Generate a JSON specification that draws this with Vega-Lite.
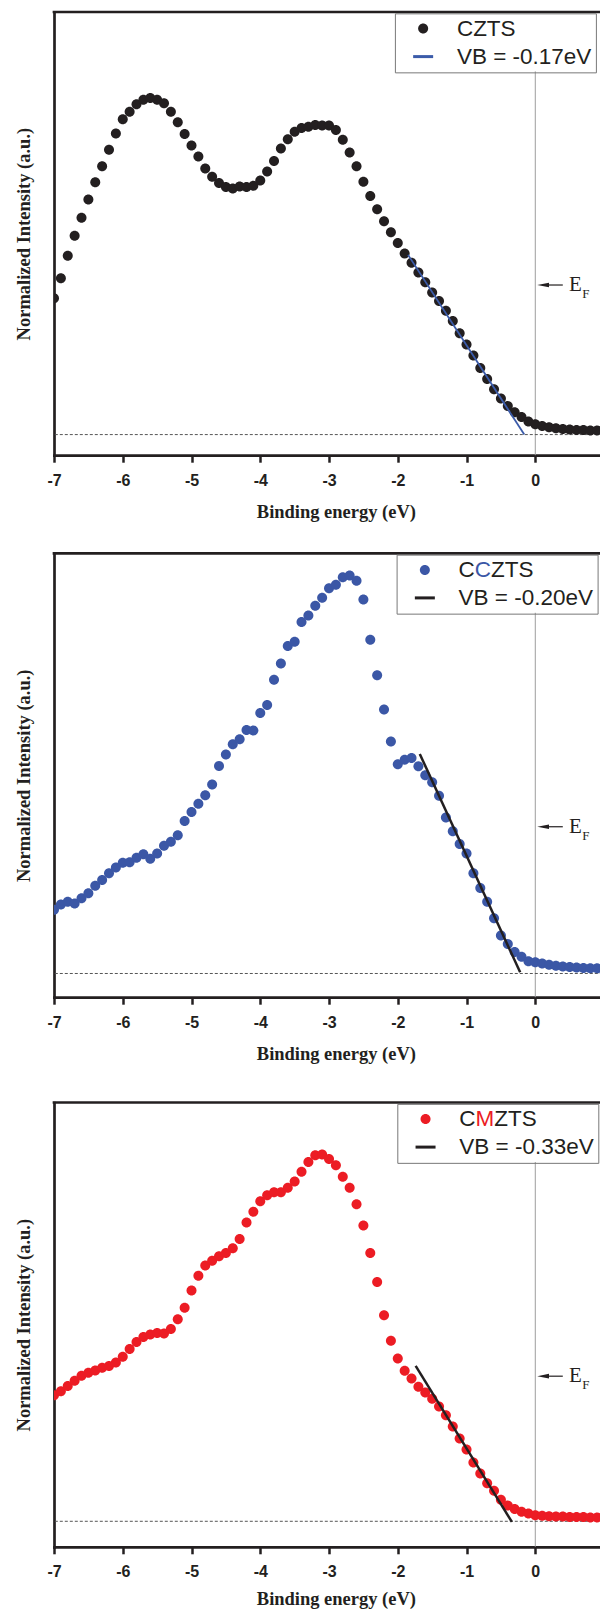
{
  "$schema": "https://vega.github.io/schema/vega-lite/v6.json",
  "background": "white",
  "padding": {"left": 15, "top": 10, "right": 0, "bottom": 0},
  "config": {
    "font": "Liberation Sans",
    "view": {"stroke": null},
    "axis": {"grid": false, "domainColor": "#231f20", "domainWidth": 2.7, "domainCap": "square", "tickColor": "#231f20", "tickWidth": 2.5, "labelFont": "Liberation Sans", "labelFontWeight": "bold", "labelFontSize": 16, "labelColor": "#231f20", "titleFont": "Liberation Serif", "titleFontWeight": "bold", "titleFontSize": 18.5, "titleColor": "#231f20", "zindex": 1},
    "legend": {"orient": "none", "padding": 4, "rowPadding": 5, "labelFont": "Liberation Sans", "labelFontSize": 22.5, "labelColor": "#231f20", "symbolSize": 400, "labelOffset": 22.5, "symbolOffset": 13, "strokeColor": "#777777", "labelLimit": 400, "symbolStrokeWidth": 0}
  },
  "datasets": {
    "czts": [
      {"E": -7.0, "I": 0.354}, {"E": -6.9, "I": 0.399}, {"E": -6.8, "I": 0.450}, {"E": -6.7, "I": 0.495}, {"E": -6.6, "I": 0.536},
      {"E": -6.5, "I": 0.577}, {"E": -6.4, "I": 0.616}, {"E": -6.3, "I": 0.652}, {"E": -6.2, "I": 0.689}, {"E": -6.1, "I": 0.726},
      {"E": -6.0, "I": 0.758}, {"E": -5.9, "I": 0.775}, {"E": -5.8, "I": 0.792}, {"E": -5.7, "I": 0.802}, {"E": -5.6, "I": 0.806},
      {"E": -5.5, "I": 0.802}, {"E": -5.4, "I": 0.794}, {"E": -5.3, "I": 0.775}, {"E": -5.2, "I": 0.751}, {"E": -5.1, "I": 0.725},
      {"E": -5.0, "I": 0.699}, {"E": -4.9, "I": 0.674}, {"E": -4.8, "I": 0.647}, {"E": -4.7, "I": 0.628}, {"E": -4.6, "I": 0.614},
      {"E": -4.5, "I": 0.605}, {"E": -4.4, "I": 0.602}, {"E": -4.3, "I": 0.606}, {"E": -4.2, "I": 0.605}, {"E": -4.1, "I": 0.608},
      {"E": -4.0, "I": 0.620}, {"E": -3.9, "I": 0.640}, {"E": -3.8, "I": 0.664}, {"E": -3.7, "I": 0.692}, {"E": -3.6, "I": 0.713},
      {"E": -3.5, "I": 0.730}, {"E": -3.4, "I": 0.738}, {"E": -3.3, "I": 0.741}, {"E": -3.2, "I": 0.745}, {"E": -3.1, "I": 0.744},
      {"E": -3.0, "I": 0.744}, {"E": -2.9, "I": 0.734}, {"E": -2.8, "I": 0.712}, {"E": -2.7, "I": 0.683}, {"E": -2.6, "I": 0.652},
      {"E": -2.5, "I": 0.617}, {"E": -2.4, "I": 0.585}, {"E": -2.3, "I": 0.555}, {"E": -2.2, "I": 0.528}, {"E": -2.1, "I": 0.503},
      {"E": -2.0, "I": 0.479}, {"E": -1.9, "I": 0.455}, {"E": -1.8, "I": 0.434}, {"E": -1.7, "I": 0.412}, {"E": -1.6, "I": 0.390},
      {"E": -1.5, "I": 0.367}, {"E": -1.4, "I": 0.348}, {"E": -1.3, "I": 0.326}, {"E": -1.2, "I": 0.303}, {"E": -1.1, "I": 0.275},
      {"E": -1.0, "I": 0.250}, {"E": -0.9, "I": 0.225}, {"E": -0.8, "I": 0.197}, {"E": -0.7, "I": 0.172}, {"E": -0.6, "I": 0.149},
      {"E": -0.5, "I": 0.128}, {"E": -0.4, "I": 0.111}, {"E": -0.3, "I": 0.097}, {"E": -0.2, "I": 0.086}, {"E": -0.1, "I": 0.076},
      {"E": 0.0, "I": 0.070}, {"E": 0.1, "I": 0.066}, {"E": 0.2, "I": 0.063}, {"E": 0.3, "I": 0.061}, {"E": 0.4, "I": 0.059},
      {"E": 0.5, "I": 0.058}, {"E": 0.6, "I": 0.057}, {"E": 0.7, "I": 0.057}, {"E": 0.8, "I": 0.056}, {"E": 0.9, "I": 0.056},
      {"E": 1.0, "I": 0.056}
    ],
    "cczts": [
      {"E": -7.0, "I": 0.197}, {"E": -6.9, "I": 0.209}, {"E": -6.8, "I": 0.215}, {"E": -6.7, "I": 0.211}, {"E": -6.6, "I": 0.223},
      {"E": -6.5, "I": 0.234}, {"E": -6.4, "I": 0.251}, {"E": -6.3, "I": 0.264}, {"E": -6.2, "I": 0.279}, {"E": -6.1, "I": 0.292},
      {"E": -6.0, "I": 0.303}, {"E": -5.9, "I": 0.304}, {"E": -5.8, "I": 0.314}, {"E": -5.7, "I": 0.322}, {"E": -5.6, "I": 0.312},
      {"E": -5.5, "I": 0.324}, {"E": -5.4, "I": 0.341}, {"E": -5.3, "I": 0.350}, {"E": -5.2, "I": 0.365}, {"E": -5.1, "I": 0.397},
      {"E": -5.0, "I": 0.417}, {"E": -4.9, "I": 0.436}, {"E": -4.8, "I": 0.455}, {"E": -4.7, "I": 0.479}, {"E": -4.6, "I": 0.521},
      {"E": -4.5, "I": 0.547}, {"E": -4.4, "I": 0.570}, {"E": -4.3, "I": 0.581}, {"E": -4.2, "I": 0.602}, {"E": -4.1, "I": 0.601},
      {"E": -4.0, "I": 0.640}, {"E": -3.9, "I": 0.658}, {"E": -3.8, "I": 0.715}, {"E": -3.7, "I": 0.752}, {"E": -3.6, "I": 0.791},
      {"E": -3.5, "I": 0.801}, {"E": -3.4, "I": 0.845}, {"E": -3.3, "I": 0.860}, {"E": -3.2, "I": 0.882}, {"E": -3.1, "I": 0.900},
      {"E": -3.0, "I": 0.921}, {"E": -2.9, "I": 0.929}, {"E": -2.8, "I": 0.946}, {"E": -2.7, "I": 0.950}, {"E": -2.6, "I": 0.938},
      {"E": -2.5, "I": 0.896}, {"E": -2.4, "I": 0.805}, {"E": -2.3, "I": 0.725}, {"E": -2.2, "I": 0.648}, {"E": -2.1, "I": 0.576},
      {"E": -2.0, "I": 0.525}, {"E": -1.9, "I": 0.535}, {"E": -1.8, "I": 0.539}, {"E": -1.7, "I": 0.520}, {"E": -1.6, "I": 0.500},
      {"E": -1.5, "I": 0.484}, {"E": -1.4, "I": 0.454}, {"E": -1.3, "I": 0.405}, {"E": -1.2, "I": 0.374}, {"E": -1.1, "I": 0.345},
      {"E": -1.0, "I": 0.324}, {"E": -0.9, "I": 0.279}, {"E": -0.8, "I": 0.246}, {"E": -0.7, "I": 0.215}, {"E": -0.6, "I": 0.178},
      {"E": -0.5, "I": 0.139}, {"E": -0.4, "I": 0.120}, {"E": -0.3, "I": 0.102}, {"E": -0.2, "I": 0.091}, {"E": -0.1, "I": 0.081},
      {"E": 0.0, "I": 0.079}, {"E": 0.1, "I": 0.076}, {"E": 0.2, "I": 0.073}, {"E": 0.3, "I": 0.071}, {"E": 0.4, "I": 0.069},
      {"E": 0.5, "I": 0.068}, {"E": 0.6, "I": 0.067}, {"E": 0.7, "I": 0.066}, {"E": 0.8, "I": 0.065}, {"E": 0.9, "I": 0.065},
      {"E": 1.0, "I": 0.065}
    ],
    "cmzts": [
      {"E": -7.0, "I": 0.341}, {"E": -6.9, "I": 0.350}, {"E": -6.8, "I": 0.362}, {"E": -6.7, "I": 0.374}, {"E": -6.6, "I": 0.385},
      {"E": -6.5, "I": 0.392}, {"E": -6.4, "I": 0.397}, {"E": -6.3, "I": 0.403}, {"E": -6.2, "I": 0.407}, {"E": -6.1, "I": 0.415},
      {"E": -6.0, "I": 0.428}, {"E": -5.9, "I": 0.445}, {"E": -5.8, "I": 0.461}, {"E": -5.7, "I": 0.472}, {"E": -5.6, "I": 0.478},
      {"E": -5.5, "I": 0.481}, {"E": -5.4, "I": 0.480}, {"E": -5.3, "I": 0.490}, {"E": -5.2, "I": 0.512}, {"E": -5.1, "I": 0.538},
      {"E": -5.0, "I": 0.577}, {"E": -4.9, "I": 0.610}, {"E": -4.8, "I": 0.633}, {"E": -4.7, "I": 0.644}, {"E": -4.6, "I": 0.654},
      {"E": -4.5, "I": 0.661}, {"E": -4.4, "I": 0.672}, {"E": -4.3, "I": 0.693}, {"E": -4.2, "I": 0.730}, {"E": -4.1, "I": 0.754},
      {"E": -4.0, "I": 0.778}, {"E": -3.9, "I": 0.791}, {"E": -3.8, "I": 0.798}, {"E": -3.7, "I": 0.798}, {"E": -3.6, "I": 0.808},
      {"E": -3.5, "I": 0.822}, {"E": -3.4, "I": 0.844}, {"E": -3.3, "I": 0.866}, {"E": -3.2, "I": 0.881}, {"E": -3.1, "I": 0.883},
      {"E": -3.0, "I": 0.873}, {"E": -2.9, "I": 0.859}, {"E": -2.8, "I": 0.833}, {"E": -2.7, "I": 0.808}, {"E": -2.6, "I": 0.771},
      {"E": -2.5, "I": 0.723}, {"E": -2.4, "I": 0.661}, {"E": -2.3, "I": 0.596}, {"E": -2.2, "I": 0.521}, {"E": -2.1, "I": 0.464},
      {"E": -2.0, "I": 0.424}, {"E": -1.9, "I": 0.396}, {"E": -1.8, "I": 0.379}, {"E": -1.7, "I": 0.360}, {"E": -1.6, "I": 0.347},
      {"E": -1.5, "I": 0.333}, {"E": -1.4, "I": 0.316}, {"E": -1.3, "I": 0.296}, {"E": -1.2, "I": 0.271}, {"E": -1.1, "I": 0.244},
      {"E": -1.0, "I": 0.219}, {"E": -0.9, "I": 0.190}, {"E": -0.8, "I": 0.165}, {"E": -0.7, "I": 0.143}, {"E": -0.6, "I": 0.126},
      {"E": -0.5, "I": 0.106}, {"E": -0.4, "I": 0.093}, {"E": -0.3, "I": 0.085}, {"E": -0.2, "I": 0.079}, {"E": -0.1, "I": 0.075},
      {"E": 0.0, "I": 0.071}, {"E": 0.1, "I": 0.070}, {"E": 0.2, "I": 0.069}, {"E": 0.3, "I": 0.068}, {"E": 0.4, "I": 0.068},
      {"E": 0.5, "I": 0.067}, {"E": 0.6, "I": 0.067}, {"E": 0.7, "I": 0.067}, {"E": 0.8, "I": 0.066}, {"E": 0.9, "I": 0.066},
      {"E": 1.0, "I": 0.066}
    ],
    "fit1": [{"E": -1.85, "I": 0.452}, {"E": -0.16, "I": 0.0465}],
    "fit2": [{"E": -1.68, "I": 0.548}, {"E": -0.22, "I": 0.056}],
    "fit3": [{"E": -1.74, "I": 0.407}, {"E": -0.34, "I": 0.056}]
  },
  "resolve": {"scale": {"color": "independent", "shape": "independent"}, "legend": {"color": "independent", "shape": "independent"}},
  "spacing": 37.5,
  "vconcat": [
    {
      "spacing": 30.3,
      "resolve": {"scale": {"color": "independent", "shape": "independent"}, "legend": {"color": "independent", "shape": "independent"}},
      "vconcat": [
        {
          "width": 563.8,
          "height": 443.2,
          "layer": [
            {"data": {"values": [{}]}, "mark": {"type": "rule", "color": "#9d9d9d", "strokeWidth": 1},
             "encoding": {"x": {"datum": 0, "type": "quantitative", "scale": {"domain": [-7, 1.2], "nice": false, "zero": false}},
               "y": {"datum": 0, "type": "quantitative", "scale": {"domain": [0, 1], "nice": false, "zero": false}}, "y2": {"datum": 0.866}}},
            {"data": {"values": [{}]}, "mark": {"type": "rule", "color": "#231f20", "strokeWidth": 2.7, "strokeCap": "square"},
             "encoding": {"y": {"datum": 1, "type": "quantitative"}}},
            {"data": {"values": [{}]}, "mark": {"type": "rule", "color": "#555555", "strokeWidth": 1, "strokeDash": [3, 2]},
             "encoding": {"y": {"datum": 0.0465, "type": "quantitative"}}},
            {"data": {"name": "czts"}, "mark": {"type": "point", "filled": true, "size": 400, "opacity": 1, "clip": true},
             "encoding": {
               "x": {"field": "E", "type": "quantitative",
                 "axis": {"orient": "bottom", "values": [-7, -6.5, -6, -5.5, -5, -4.5, -4, -3.5, -3, -2.5, -2, -1.5, -1, -0.5, 0, 0.5, 1],
                   "labelExpr": "datum.value % 1 === 0 ? '' + datum.value : ''",
                   "tickSize": {"condition": {"test": "datum.value % 1 !== 0", "value": 3.5}, "value": 7},
                   "labelPadding": 10, "labelFlush": false, "labelOverlap": false, "title": "Binding energy (eV)", "titlePadding": 14}},
               "y": {"field": "I", "type": "quantitative",
                 "axis": {"orient": "left", "ticks": false, "labels": false, "title": "Normalized Intensity (a.u.)", "titlePadding": 20}},
               "color": {"datum": "CZTS", "type": "nominal", "scale": {"domain": ["CZTS", "VB = -0.17eV"], "range": ["#231f20", "#3b5ba9"]},
                 "legend": {"title": null, "legendX": 340.9, "legendY": 1.35, "labelExpr": "datum.label + '\u00a0\u00a0'"}},
               "shape": {"datum": "CZTS", "type": "nominal", "scale": {"domain": ["CZTS", "VB = -0.17eV"], "range": ["M0.5,0A0.5,0.5,0,1,1,-0.5,0A0.5,0.5,0,1,1,0.5,0Z", "M-1,-0.15H1V0.15H-1Z"]},
                 "legend": {"title": null, "legendX": 340.9, "legendY": 1.35, "labelExpr": "datum.label + '\u00a0\u00a0'"}}
             }},
            {"data": {"name": "fit1"}, "mark": {"type": "line", "color": "#3b5ba9", "strokeWidth": 1.8},
             "encoding": {"x": {"field": "E", "type": "quantitative"}, "y": {"field": "I", "type": "quantitative"}}},
            {"data": {"values": [{}]}, "mark": {"type": "rule", "color": "#231f20", "strokeWidth": 1.2},
             "encoding": {"x": {"datum": 0.114, "type": "quantitative"}, "x2": {"datum": 0.4}, "y": {"datum": 0.384, "type": "quantitative"}}},
            {"data": {"values": [{}]}, "mark": {"type": "point", "filled": true, "opacity": 1, "color": "#231f20", "size": 137, "shape": "M-1,0L1,-0.4L1,0.4Z"},
             "encoding": {"x": {"datum": 0.114, "type": "quantitative"}, "y": {"datum": 0.384, "type": "quantitative"}}},
            {"data": {"values": [{}]}, "mark": {"type": "text", "text": "E", "font": "Liberation Serif", "fontSize": 21, "color": "#231f20", "align": "left", "baseline": "middle"},
             "encoding": {"x": {"datum": 0.49, "type": "quantitative"}, "y": {"datum": 0.384, "type": "quantitative"}}},
            {"data": {"values": [{}]}, "mark": {"type": "text", "text": "F", "font": "Liberation Serif", "fontSize": 13, "color": "#231f20", "align": "left", "baseline": "middle", "dy": 9},
             "encoding": {"x": {"datum": 0.684, "type": "quantitative"}, "y": {"datum": 0.384, "type": "quantitative"}}}
          ]
        },
        {
          "width": 563.8,
          "height": 443.9,
          "layer": [
            {"data": {"values": [{}]}, "mark": {"type": "rule", "color": "#9d9d9d", "strokeWidth": 1},
             "encoding": {"x": {"datum": 0, "type": "quantitative", "scale": {"domain": [-7, 1.2], "nice": false, "zero": false}},
               "y": {"datum": 0, "type": "quantitative", "scale": {"domain": [0, 1], "nice": false, "zero": false}}, "y2": {"datum": 0.866}}},
            {"data": {"values": [{}]}, "mark": {"type": "rule", "color": "#231f20", "strokeWidth": 2.7, "strokeCap": "square"},
             "encoding": {"y": {"datum": 1, "type": "quantitative"}}},
            {"data": {"values": [{}]}, "mark": {"type": "rule", "color": "#555555", "strokeWidth": 1, "strokeDash": [3, 2]},
             "encoding": {"y": {"datum": 0.0534, "type": "quantitative"}}},
            {"data": {"name": "cczts"}, "mark": {"type": "point", "filled": true, "size": 400, "opacity": 1, "clip": true},
             "encoding": {
               "x": {"field": "E", "type": "quantitative",
                 "axis": {"orient": "bottom", "values": [-7, -6.5, -6, -5.5, -5, -4.5, -4, -3.5, -3, -2.5, -2, -1.5, -1, -0.5, 0, 0.5, 1],
                   "labelExpr": "datum.value % 1 === 0 ? '' + datum.value : ''",
                   "tickSize": {"condition": {"test": "datum.value % 1 !== 0", "value": 3.5}, "value": 7},
                   "labelPadding": 10, "labelFlush": false, "labelOverlap": false, "title": "Binding energy (eV)", "titlePadding": 14}},
               "y": {"field": "I", "type": "quantitative",
                 "axis": {"orient": "left", "ticks": false, "labels": false, "title": "Normalized Intensity (a.u.)", "titlePadding": 20}},
               "color": {"datum": "CCZTS", "type": "nominal", "scale": {"domain": ["CCZTS", "VB = -0.20eV"], "range": ["#3b57a6", "#231f20"]},
                 "legend": {"title": null, "legendX": 342.6, "legendY": 1.35, "labelExpr": "datum.label === 'CCZTS' ? 'C' : datum.label + '\u00a0\u00a0'"}},
               "shape": {"datum": "CCZTS", "type": "nominal", "scale": {"domain": ["CCZTS", "VB = -0.20eV"], "range": ["M0.5,0A0.5,0.5,0,1,1,-0.5,0A0.5,0.5,0,1,1,0.5,0Z", "M-1,-0.15H1V0.15H-1Z"]},
                 "legend": {"title": null, "legendX": 342.6, "legendY": 1.35, "labelExpr": "datum.label === 'CCZTS' ? 'C' : datum.label + '\u00a0\u00a0'"}}
             }},
            {"data": {"name": "fit2"}, "mark": {"type": "line", "color": "#231f20", "strokeWidth": 2.5},
             "encoding": {"x": {"field": "E", "type": "quantitative"}, "y": {"field": "I", "type": "quantitative"}}},
            {"data": {"values": [{}]}, "mark": {"type": "text", "text": "C", "font": "Liberation Sans", "fontSize": 22.5, "color": "#3b57a6", "align": "left", "baseline": "middle"},
             "encoding": {"x": {"datum": -0.87915, "type": "quantitative"}, "y": {"datum": 0.962604, "type": "quantitative"}}},
            {"data": {"values": [{}]}, "mark": {"type": "text", "text": "ZTS", "font": "Liberation Sans", "fontSize": 22.5, "color": "#231f20", "align": "left", "baseline": "middle"},
             "encoding": {"x": {"datum": -0.64288, "type": "quantitative"}, "y": {"datum": 0.962604, "type": "quantitative"}}},
            {"data": {"values": [{}]}, "mark": {"type": "rule", "color": "#231f20", "strokeWidth": 1.2},
             "encoding": {"x": {"datum": 0.114, "type": "quantitative"}, "x2": {"datum": 0.4}, "y": {"datum": 0.384, "type": "quantitative"}}},
            {"data": {"values": [{}]}, "mark": {"type": "point", "filled": true, "opacity": 1, "color": "#231f20", "size": 137, "shape": "M-1,0L1,-0.4L1,0.4Z"},
             "encoding": {"x": {"datum": 0.114, "type": "quantitative"}, "y": {"datum": 0.384, "type": "quantitative"}}},
            {"data": {"values": [{}]}, "mark": {"type": "text", "text": "E", "font": "Liberation Serif", "fontSize": 21, "color": "#231f20", "align": "left", "baseline": "middle"},
             "encoding": {"x": {"datum": 0.49, "type": "quantitative"}, "y": {"datum": 0.384, "type": "quantitative"}}},
            {"data": {"values": [{}]}, "mark": {"type": "text", "text": "F", "font": "Liberation Serif", "fontSize": 13, "color": "#231f20", "align": "left", "baseline": "middle", "dy": 9},
             "encoding": {"x": {"datum": 0.684, "type": "quantitative"}, "y": {"datum": 0.384, "type": "quantitative"}}}
          ]
        }
      ]
    },
    {
      "width": 563.8,
      "height": 444.3,
      "layer": [
        {"data": {"values": [{}]}, "mark": {"type": "rule", "color": "#9d9d9d", "strokeWidth": 1},
         "encoding": {"x": {"datum": 0, "type": "quantitative", "scale": {"domain": [-7, 1.2], "nice": false, "zero": false}},
           "y": {"datum": 0, "type": "quantitative", "scale": {"domain": [0, 1], "nice": false, "zero": false}}, "y2": {"datum": 0.866}}},
        {"data": {"values": [{}]}, "mark": {"type": "rule", "color": "#231f20", "strokeWidth": 2.7, "strokeCap": "square"},
         "encoding": {"y": {"datum": 1, "type": "quantitative"}}},
        {"data": {"values": [{}]}, "mark": {"type": "rule", "color": "#555555", "strokeWidth": 1, "strokeDash": [3, 2]},
         "encoding": {"y": {"datum": 0.0574, "type": "quantitative"}}},
        {"data": {"name": "cmzts"}, "mark": {"type": "point", "filled": true, "size": 400, "opacity": 1, "clip": true},
         "encoding": {
           "x": {"field": "E", "type": "quantitative",
             "axis": {"orient": "bottom", "values": [-7, -6.5, -6, -5.5, -5, -4.5, -4, -3.5, -3, -2.5, -2, -1.5, -1, -0.5, 0, 0.5, 1],
               "labelExpr": "datum.value % 1 === 0 ? '' + datum.value : ''",
               "tickSize": {"condition": {"test": "datum.value % 1 !== 0", "value": 3.5}, "value": 7},
               "labelPadding": 10, "labelFlush": false, "labelOverlap": false, "title": "Binding energy (eV)", "titlePadding": 10}},
           "y": {"field": "I", "type": "quantitative",
             "axis": {"orient": "left", "ticks": false, "labels": false, "title": "Normalized Intensity (a.u.)", "titlePadding": 20}},
           "color": {"datum": "CMZTS", "type": "nominal", "scale": {"domain": ["CMZTS", "VB = -0.33eV"], "range": ["#ec1c24", "#231f20"]},
             "legend": {"title": null, "legendX": 343.3, "legendY": 1.35, "labelExpr": "datum.label === 'CMZTS' ? 'C' : datum.label + '\u00a0\u00a0'"}},
           "shape": {"datum": "CMZTS", "type": "nominal", "scale": {"domain": ["CMZTS", "VB = -0.33eV"], "range": ["M0.5,0A0.5,0.5,0,1,1,-0.5,0A0.5,0.5,0,1,1,0.5,0Z", "M-1,-0.15H1V0.15H-1Z"]},
             "legend": {"title": null, "legendX": 343.3, "legendY": 1.35, "labelExpr": "datum.label === 'CMZTS' ? 'C' : datum.label + '\u00a0\u00a0'"}}
         }},
        {"data": {"name": "fit3"}, "mark": {"type": "line", "color": "#231f20", "strokeWidth": 2.5},
         "encoding": {"x": {"field": "E", "type": "quantitative"}, "y": {"field": "I", "type": "quantitative"}}},
        {"data": {"values": [{}]}, "mark": {"type": "text", "text": "M", "font": "Liberation Sans", "fontSize": 22.5, "color": "#ec1c24", "align": "left", "baseline": "middle"},
         "encoding": {"x": {"datum": -0.86897, "type": "quantitative"}, "y": {"datum": 0.962638, "type": "quantitative"}}},
        {"data": {"values": [{}]}, "mark": {"type": "text", "text": "ZTS", "font": "Liberation Sans", "fontSize": 22.5, "color": "#231f20", "align": "left", "baseline": "middle"},
         "encoding": {"x": {"datum": -0.59634, "type": "quantitative"}, "y": {"datum": 0.962638, "type": "quantitative"}}},
        {"data": {"values": [{}]}, "mark": {"type": "rule", "color": "#231f20", "strokeWidth": 1.2},
         "encoding": {"x": {"datum": 0.114, "type": "quantitative"}, "x2": {"datum": 0.4}, "y": {"datum": 0.384, "type": "quantitative"}}},
        {"data": {"values": [{}]}, "mark": {"type": "point", "filled": true, "opacity": 1, "color": "#231f20", "size": 137, "shape": "M-1,0L1,-0.4L1,0.4Z"},
         "encoding": {"x": {"datum": 0.114, "type": "quantitative"}, "y": {"datum": 0.384, "type": "quantitative"}}},
        {"data": {"values": [{}]}, "mark": {"type": "text", "text": "E", "font": "Liberation Serif", "fontSize": 21, "color": "#231f20", "align": "left", "baseline": "middle"},
         "encoding": {"x": {"datum": 0.49, "type": "quantitative"}, "y": {"datum": 0.384, "type": "quantitative"}}},
        {"data": {"values": [{}]}, "mark": {"type": "text", "text": "F", "font": "Liberation Serif", "fontSize": 13, "color": "#231f20", "align": "left", "baseline": "middle", "dy": 9},
         "encoding": {"x": {"datum": 0.684, "type": "quantitative"}, "y": {"datum": 0.384, "type": "quantitative"}}}
      ]
    }
  ]
}
